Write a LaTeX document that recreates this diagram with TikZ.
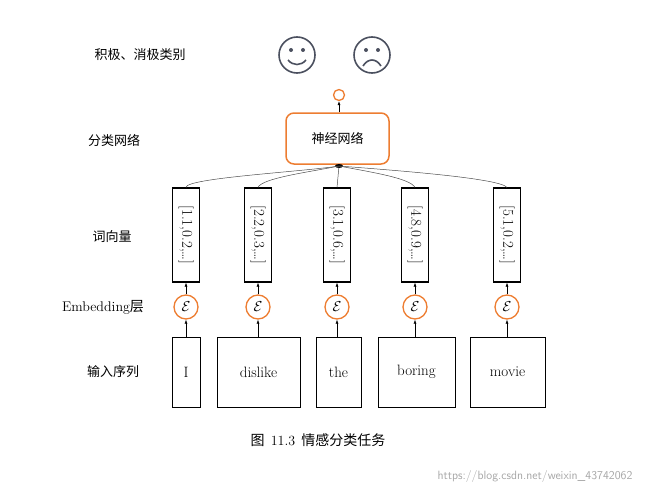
\documentclass[tikz,border=0pt]{standalone}
\usepackage{fontspec}
\newfontfamily\cjk{Noto Sans CJK SC}
\usetikzlibrary{arrows.meta}
\definecolor{org}{RGB}{237,125,49}
\definecolor{face}{RGB}{75,80,95}
\begin{document}
\begin{tikzpicture}[x=1pt,y=-1pt,
 lbl/.style={font=\cjk\fontsize{13}{15}\selectfont},
 vec/.style={draw,line width=1.1pt,minimum width=27pt,minimum height=94pt,inner sep=0pt,font=\fontsize{15}{17}\selectfont},
 inp/.style={draw,line width=0.8pt,minimum height=70pt,inner sep=0pt,font=\fontsize{15}{17}\selectfont},
 eps/.style={circle,draw=org,line width=1.3pt,minimum size=24pt,inner sep=0pt,font=\Large},
 arr/.style={-{Latex[length=4pt,width=3pt]},line width=0.6pt},
 con/.style={line width=0.5pt,black!70}]
\useasboundingbox (0,0) rectangle (653,495);
\node[lbl] (l1) at (140,55) {积极、消极类别};
\node[lbl] (l2) at (114,140) {分类网络};
\node[lbl] (l3) at (112,237) {词向量};
\node[font=\fontsize{14}{16}\selectfont] (l4) at (103,307) {Embedding\cjk 层};
\node[lbl] (l5) at (113,372) {输入序列};
% faces
\node[circle,draw=face,line width=1.6pt,minimum size=36pt] (happy) at (297,55) {};
\fill[face] (291,50) circle (2pt) (303,50) circle (2pt);
\draw[face,line width=1.6pt] (288,60) .. controls (293,66) and (301,66) .. (306,60);
\node[circle,draw=face,line width=1.6pt,minimum size=36pt] (sad) at (372,55) {};
\fill[face] (366,50) circle (2pt) (378,50) circle (2pt);
\draw[face,line width=1.6pt] (363,66) .. controls (368,58) and (376,58) .. (381,66);
\node[circle,draw=org,line width=1.3pt,minimum size=11pt,inner sep=0pt] (out) at (339,95) {};
\node[draw=org,line width=1.5pt,rounded corners=8pt,minimum width=103pt,minimum height=51pt,font=\cjk\fontsize{13}{15}\selectfont] (nn) at (337.5,138.5) {神经网络};
\draw[arr] (nn.north -| out) -- (out);
\coordinate (hub) at (339,166);
\fill (hub) ellipse (4pt and 2pt);
\foreach \n/\x/\v/\w/\xi/\xw in {a/186/{1.1,0.2}/I/186/28, b/258/{2.2,0.3}/dislike/258.5/83, c/337/{3.1,0.6}/the/338.5/45, d/415/{4.8,0.9}/boring/416.5/77, e/507/{5.1,0.2}/movie/507.5/75}{
 \node[vec] (v\n) at (\x,235) {\rotatebox{-90}{[\v,\ldots]}};
 \node[eps] (e\n) at (\x,307) {$\mathcal{E}$};
 \node[inp,minimum width=\xw pt] (i\n) at (\xi,372) {\w};
 \draw[arr] (i\n.north -| e\n) -- (e\n);
 \draw[arr] (e\n) -- (v\n);
}
\draw[con] (va.north) .. controls (186,178) and (300,172) .. (hub);
\draw[con] (vb.north) .. controls (262,178) and (310,172) .. (hub);
\draw[con] (vc.north) -- (hub);
\draw[con] (vd.north) .. controls (410,178) and (370,172) .. (hub);
\draw[con] (ve.north) .. controls (500,178) and (390,170) .. (hub);
\node[font=\cjk\fontsize{14}{16}\selectfont] (cap) at (318,440) {图\ \ {\rmfamily 11.3}\ \ 情感分类任务};
\node[font=\sffamily\fontsize{12}{14}\selectfont,text=black!35] (wm) at (535,476) {https://blog.csdn.net/weixin\_43742062};
\end{tikzpicture}
\end{document}
